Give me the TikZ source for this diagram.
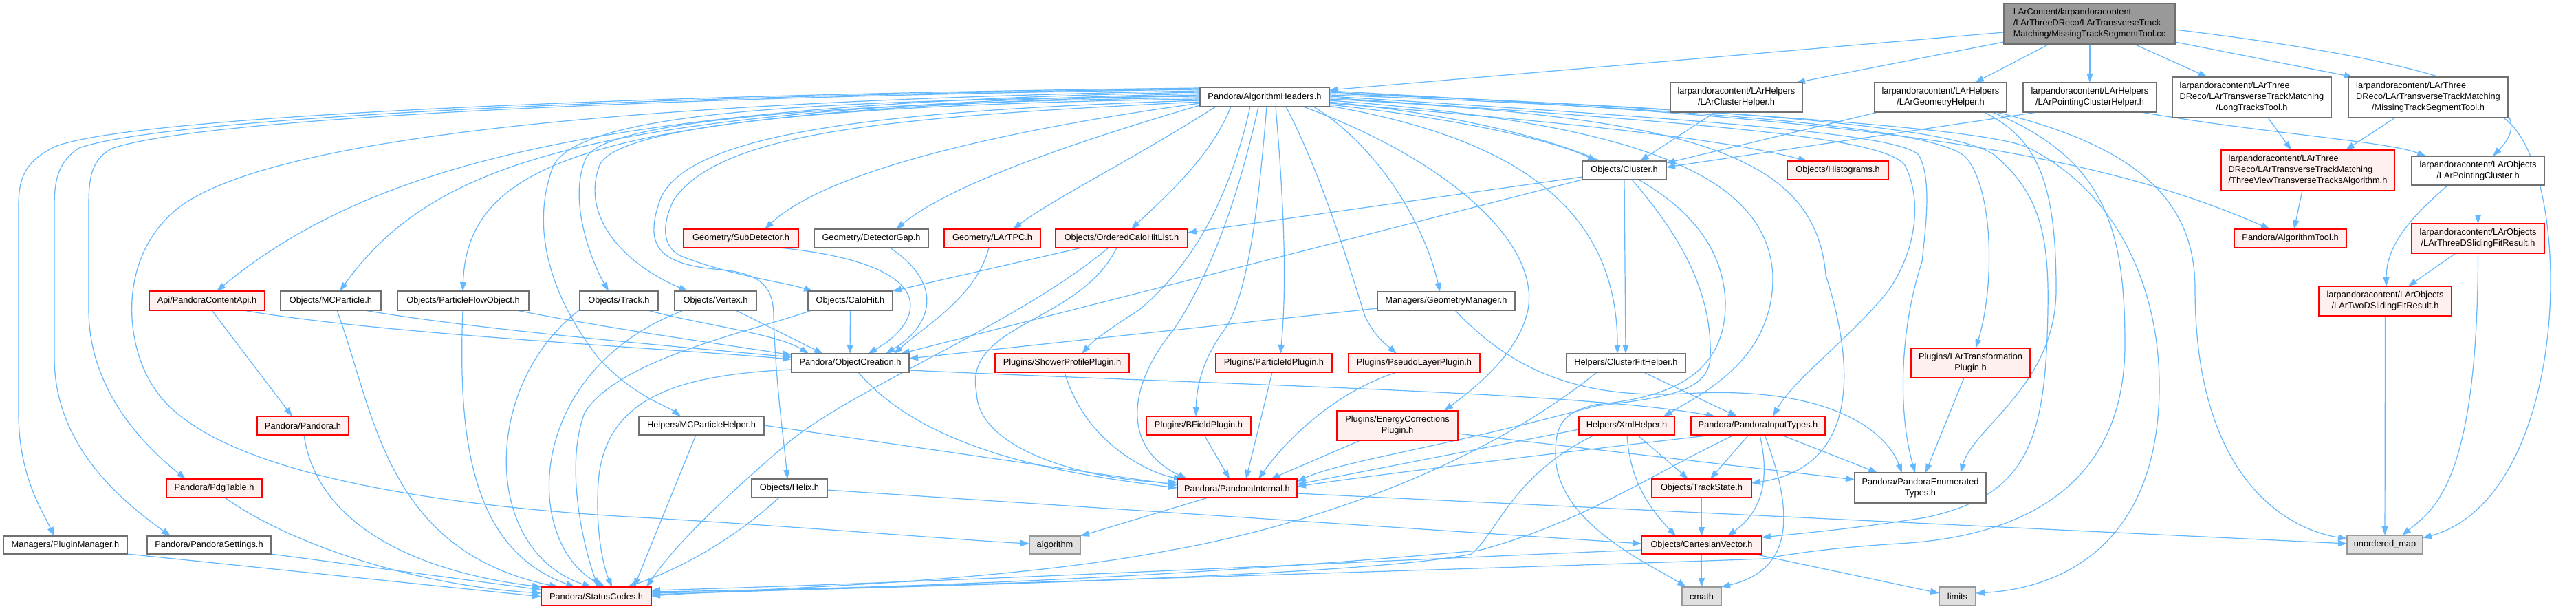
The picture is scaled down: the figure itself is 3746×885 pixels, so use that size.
\documentclass[tikz,border=0pt]{standalone}
\usepackage{fontspec}
\setmainfont{Liberation Sans}
\usetikzlibrary{arrows.meta}
\pgfdeclarelayer{bg}
\pgfsetlayers{bg,main}
\definecolor{edgec}{HTML}{63B8FF}
\definecolor{redfill}{HTML}{FFF0F0}
\definecolor{sysfill}{HTML}{E0E0E0}
\definecolor{sysdraw}{HTML}{999999}
\definecolor{rootfill}{HTML}{999999}
\definecolor{normdraw}{HTML}{707070}
\newcommand\mynode[7]{\node[#6,minimum width={(#3)-(#2)},minimum height={(#5)-(#4)}] (#1) at ({((#2)+(#3))/2},{((#4)+(#5))/2}) {#7};}
\newcommand\twol[2]{\begin{tabular}{@{}l@{}}#1\\\multicolumn{1}{@{}c@{}}{#2}\end{tabular}}
\newcommand\threel[3]{\begin{tabular}{@{}l@{}}#1\\#2\\\multicolumn{1}{@{}c@{}}{#3}\end{tabular}}
\begin{document}
\begin{tikzpicture}[x=1pt,y=-1pt,
  box/.style={rectangle,inner sep=0pt,outer sep=0pt,font=\fontsize{12.8}{16}\selectfont,line width=1.5pt},
  nrm/.style={box,draw=normdraw,fill=white},
  hdr/.style={box,draw=red,fill=redfill},
  sys/.style={box,draw=sysdraw,fill=sysfill},
  rootb/.style={box,draw=normdraw,fill=rootfill},
  dep/.style={draw=edgec,line width=1.2pt,-{Triangle[length=13pt,width=9pt]}}]
\useasboundingbox (0,0) rectangle (3746,885);
% nodes
\mynode{R}{2914}{3163}{5}{64}{rootb}{\threel{LArContent/larpandoracontent}{/LArThreeDReco/LArTransverseTrack}{Matching/MissingTrackSegmentTool.cc}}
\mynode{AH}{1745}{1933}{127}{155}{nrm}{Pandora/AlgorithmHeaders.h}
\mynode{CH}{2429}{2621}{120}{163}{nrm}{\twol{larpandoracontent/LArHelpers}{/LArClusterHelper.h}}
\mynode{GH}{2726}{2918}{120}{163}{nrm}{\twol{larpandoracontent/LArHelpers}{/LArGeometryHelper.h}}
\mynode{PCH}{2942}{3136}{120}{163}{nrm}{\twol{larpandoracontent/LArHelpers}{/LArPointingClusterHelper.h}}
\mynode{LTT}{3159}{3390}{112}{171}{nrm}{\threel{larpandoracontent/LArThree}{DReco/LArTransverseTrackMatching}{/LongTracksTool.h}}
\mynode{MTS}{3415}{3647}{112}{171}{nrm}{\threel{larpandoracontent/LArThree}{DReco/LArTransverseTrackMatching}{/MissingTrackSegmentTool.h}}
\mynode{CL}{2301}{2423}{234}{261}{nrm}{Objects/Cluster.h}
\mynode{HIS}{2599}{2746}{234}{261}{hdr}{Objects/Histograms.h}
\mynode{TVA}{3230}{3482}{218}{277}{hdr}{\threel{larpandoracontent/LArThree}{DReco/LArTransverseTrackMatching}{/ThreeViewTransverseTracksAlgorithm.h}}
\mynode{PC}{3507}{3700}{227}{269}{nrm}{\twol{larpandoracontent/LArObjects}{/LArPointingCluster.h}}
\mynode{SD}{994}{1161}{333}{360}{hdr}{Geometry/SubDetector.h}
\mynode{DG}{1184}{1350}{333}{360}{nrm}{Geometry/DetectorGap.h}
\mynode{TPC}{1373}{1513}{333}{360}{hdr}{Geometry/LArTPC.h}
\mynode{OCHL}{1535}{1727}{333}{360}{hdr}{Objects/OrderedCaloHitList.h}
\mynode{AT}{3249}{3412}{333}{360}{hdr}{Pandora/AlgorithmTool.h}
\mynode{TDS}{3507}{3700}{325}{368}{hdr}{\twol{larpandoracontent/LArObjects}{/LArThreeDSlidingFitResult.h}}
\mynode{API}{217}{385}{423}{451}{hdr}{Api/PandoraContentApi.h}
\mynode{MCP}{408}{554}{423}{451}{nrm}{Objects/MCParticle.h}
\mynode{PFO}{578}{769}{423}{451}{nrm}{Objects/ParticleFlowObject.h}
\mynode{TRK}{843}{957}{423}{451}{nrm}{Objects/Track.h}
\mynode{VTX}{981}{1100}{423}{451}{nrm}{Objects/Vertex.h}
\mynode{CAL}{1175}{1298}{423}{451}{nrm}{Objects/CaloHit.h}
\mynode{GM}{2003}{2203}{424}{451}{nrm}{Managers/GeometryManager.h}
\mynode{TWD}{3372}{3565}{416}{459}{hdr}{\twol{larpandoracontent/LArObjects}{/LArTwoDSlidingFitResult.h}}
\mynode{OC}{1151}{1322}{514}{541}{nrm}{Pandora/ObjectCreation.h}
\mynode{SPP}{1447}{1642}{514}{541}{hdr}{Plugins/ShowerProfilePlugin.h}
\mynode{PID}{1768}{1937}{514}{541}{hdr}{Plugins/ParticleIdPlugin.h}
\mynode{PLP}{1961}{2152}{514}{541}{hdr}{Plugins/PseudoLayerPlugin.h}
\mynode{CFH}{2278}{2451}{514}{541}{nrm}{Helpers/ClusterFitHelper.h}
\mynode{LTP}{2779}{2952}{506}{549}{hdr}{\twol{Plugins/LArTransformation}{Plugin.h}}
\mynode{PAN}{374}{507}{605}{632}{hdr}{Pandora/Pandora.h}
\mynode{MCH}{929}{1111}{605}{632}{nrm}{Helpers/MCParticleHelper.h}
\mynode{BFP}{1667}{1819}{605}{632}{hdr}{Plugins/BFieldPlugin.h}
\mynode{ECP}{1944}{2120}{597}{640}{hdr}{\twol{Plugins/EnergyCorrections}{Plugin.h}}
\mynode{XML}{2296}{2435}{605}{632}{hdr}{Helpers/XmlHelper.h}
\mynode{PIT}{2459}{2654}{605}{632}{hdr}{Pandora/PandoraInputTypes.h}
\mynode{PDG}{242}{381}{696}{723}{hdr}{Pandora/PdgTable.h}
\mynode{HLX}{1093}{1203}{696}{723}{nrm}{Objects/Helix.h}
\mynode{PI}{1712}{1886}{696}{723}{hdr}{Pandora/PandoraInternal.h}
\mynode{TS}{2402}{2547}{696}{723}{hdr}{Objects/TrackState.h}
\mynode{PET}{2697}{2888}{687}{731}{nrm}{\twol{Pandora/PandoraEnumerated}{Types.h}}
\mynode{PM}{5}{185}{779}{805}{nrm}{Managers/PluginManager.h}
\mynode{PS}{214}{394}{779}{805}{nrm}{Pandora/PandoraSettings.h}
\mynode{ALG}{1497}{1571}{779}{805}{sys}{algorithm}
\mynode{CV}{2387}{2562}{779}{805}{hdr}{Objects/CartesianVector.h}
\mynode{UM}{3413}{3523}{778}{805}{sys}{unordered\_map}
\mynode{SC}{787}{947}{853}{880}{hdr}{Pandora/StatusCodes.h}
\mynode{CM}{2446}{2503}{853}{880}{sys}{cmath}
\mynode{LIM}{2820}{2873}{853}{880}{sys}{limits}
\begin{pgfonlayer}{bg}
\fill[white] (0,0) rectangle (3746,885);
% root
\draw[dep] (R.west|-0,47) -- (AH.east|-0,131);
\draw[dep] (R.west|-0,61) -- (CH.north-|2612,0);
\draw[dep] (R.south-|2980,0) -- (GH.north-|2872,0);
\draw[dep] (R.south-|3039,0) -- (PCH.north-|3039,0);
\draw[dep] (R.south-|3103,0) -- (LTT.north-|3210,0);
\draw[dep] (R.east|-0,61) -- (MTS.north-|3422,0);
\draw[dep] (R.east|-0,43) .. controls (3590,95) and (3700,150) .. (PC.north-|3625,0);
% tools / objects
\draw[dep] (LTT.south-|3298,0) -- (TVA.north-|3332,0);
\draw[dep] (MTS.south-|3483,0) -- (TVA.north-|3411,0);
\draw[dep] (MTS.south-|3640,0) .. controls (3745,240) and (3745,720) .. (UM.east|-0,782);
\draw[dep] (TVA.south-|3348,0) -- (AT.north-|3336,0);
\draw[dep] (PC.south) -- (TDS.north);
\draw[dep] (PC.south-|3560,0) .. controls (3500,320) and (3470,360) .. (TWD.north-|3470,0);
\draw[dep] (TDS.south-|3571,0) -- (TWD.north-|3502,0);
\draw[dep] (TDS.south) .. controls (3603,700) and (3540,740) .. (UM.north-|3493,0);
\draw[dep] (TWD.south) -- (UM.north-|3468,0);
% helpers
\draw[dep] (PCH.south-|2963,0) -- (CL.east|-0,243);
\draw[dep] (PCH.south-|3113,0) .. controls (3300,195) and (3470,205) .. (PC.north-|3528,0);
\draw[dep] (CH.south-|2494,0) -- (CL.north-|2385,0);
\draw[dep] (GH.south-|2731,0) -- (CL.east|-0,237);
\draw[dep] (GH.south-|2885,0) .. controls (2960,200) and (2990,260) .. (2990,420) .. controls (2990,560) and (2870,620) .. (PET.north-|2851,0);
\draw[dep] (GH.south-|2897,0) .. controls (3060,230) and (3090,330) .. (3090,500) .. controls (3090,700) and (2950,780) .. (2760,790) .. controls (2650,797) and (2600,806) .. (2565,812) .. controls (2300,822) and (1300,852) .. (SC.east|-0,864);
\draw[dep] (GH.south-|2903,0) .. controls (3120,215) and (3192,300) .. (3192,420) .. controls (3192,700) and (3330,770) .. (UM.west|-0,783);
% AlgorithmHeaders, right bundle
\draw[dep] (AH.east|-0,132) .. controls (2600,170) and (3000,200) .. (AT.north-|3301,0);
\draw[dep] (AH.east|-0,134) .. controls (2600,165) and (2900,190) .. (2950,215) .. controls (3080,280) and (3140,420) .. (3140,560) .. controls (3140,790) and (3000,855) .. (LIM.east|-0,862);
\draw[dep] (AH.east|-0,136) .. controls (2600,160) and (2850,190) .. (2900,225) .. controls (2965,280) and (2980,340) .. (2978,450) .. controls (2975,640) and (2950,720) .. (2800,752) .. controls (2700,768) and (2620,775) .. (CV.east|-0,781);
\draw[dep] (AH.east|-0,138) .. controls (2600,162) and (2830,195) .. (2860,230) .. controls (2900,280) and (2900,420) .. (LTP.north-|2873,0);
\draw[dep] (AH.east|-0,140) .. controls (2500,175) and (2760,195) .. (2790,225) .. controls (2810,260) and (2800,330) .. (2795,380) .. controls (2762,480) and (2760,600) .. (PET.north-|2785,0);
\draw[dep] (AH.east|-0,142) .. controls (2500,180) and (2740,200) .. (2770,240) .. controls (2800,300) and (2780,380) .. (2740,430) .. controls (2680,500) and (2610,550) .. (PIT.north-|2578,0);
\draw[dep] (AH.east|-0,144) .. controls (2450,170) and (2640,220) .. (2655,400) .. controls (2700,540) and (2700,680) .. (TS.east|-0,702);
\draw[dep] (AH.east|-0,146) .. controls (2400,180) and (2570,260) .. (2578,400) .. controls (2580,520) and (2480,570) .. (XML.north-|2419,0);
\draw[dep] (AH.east|-0,148) .. controls (2350,190) and (2505,300) .. (2509,440) .. controls (2510,560) and (2400,580) .. (2320,588) .. controls (2270,600) and (2262,620) .. (2262,660) .. controls (2262,760) and (2400,820) .. (CM.north-|2452,0);
\draw[dep] (AH.east|-0,150) .. controls (2250,175) and (2500,200) .. (HIS.north-|2628,0);
\draw[dep] (AH.east|-0,152) .. controls (2100,170) and (2250,200) .. (CL.north-|2322,0);
\draw[dep] (AH.east|-0,154) .. controls (2200,200) and (2352,300) .. (CFH.north-|2352,0);
% AlgorithmHeaders, bottom
\draw[dep] (AH.south-|1910,0) .. controls (2000,210) and (2070,320) .. (GM.north-|2094,0);
\draw[dep] (AH.south-|1895,0) .. controls (2100,230) and (2240,350) .. (2222,450) .. controls (2210,510) and (2150,560) .. (ECP.north-|2100,0);
\draw[dep] (AH.south-|1870,0) .. controls (1920,250) and (1960,380) .. (1985,460) .. controls (2000,490) and (2015,500) .. (PLP.north-|2031,0);
\draw[dep] (AH.south-|1855,0) .. controls (1870,330) and (1870,430) .. (PID.north-|1862,0);
\draw[dep] (AH.south-|1842,0) .. controls (1830,300) and (1815,430) .. (1780,480) .. controls (1750,520) and (1740,560) .. (BFP.north-|1739,0);
\draw[dep] (AH.south-|1830,0) .. controls (1800,290) and (1760,400) .. (1706,480) .. controls (1640,560) and (1630,650) .. (PI.north-|1726,0);
\draw[dep] (AH.south-|1818,0) .. controls (1790,280) and (1740,380) .. (1657,450) .. controls (1610,480) and (1590,495) .. (SPP.north-|1573,0);
\draw[dep] (AH.south-|1790,0) .. controls (1760,230) and (1690,290) .. (OCHL.north-|1645,0);
\draw[dep] (AH.south-|1768,0) .. controls (1650,230) and (1530,290) .. (TPC.north-|1473,0);
% AlgorithmHeaders, left bundle
\draw[dep] (AH.west|-0,153) .. controls (1550,210) and (1380,270) .. (DG.north-|1303,0);
\draw[dep] (AH.west|-0,150) .. controls (1450,190) and (1200,250) .. (SD.north-|1112,0);
\draw[dep] (AH.west|-0,148) .. controls (1300,170) and (1050,190) .. (980,290) .. controls (960,330) and (965,360) .. (990,372) .. controls (1060,400) and (1140,410) .. (CAL.north-|1182,0);
\draw[dep] (AH.west|-0,146) .. controls (1300,160) and (1000,190) .. (960,290) .. controls (935,360) and (960,385) .. (1050,392) .. controls (1110,398) and (1125,420) .. (1125,460) .. controls (1128,560) and (1140,640) .. (HLX.north-|1145,0);
\draw[dep] (AH.west|-0,144) .. controls (1300,150) and (900,175) .. (872,240) .. controls (845,310) and (900,380) .. (VTX.north-|1000,0);
\draw[dep] (AH.west|-0,142) .. controls (1300,148) and (880,168) .. (852,230) .. controls (825,290) and (860,380) .. (TRK.north-|885,0);
\draw[dep] (AH.west|-0,140) .. controls (1200,145) and (850,160) .. (805,240) .. controls (770,330) and (800,430) .. (870,520) .. controls (920,575) and (970,590) .. (MCH.north-|990,0);
\draw[dep] (AH.west|-0,138) .. controls (900,160) and (680,220) .. (PFO.north-|673,0);
\draw[dep] (AH.west|-0,136) .. controls (900,158) and (640,220) .. (MCP.north-|494,0);
\draw[dep] (AH.west|-0,134) .. controls (900,150) and (550,230) .. (API.north-|315,0);
\draw[dep] (AH.west|-0,132) .. controls (900,148) and (400,200) .. (262,300) .. controls (170,370) and (180,500) .. (225,565) .. controls (300,680) and (600,735) .. (950,753) .. controls (1200,768) and (1400,785) .. (ALG.west|-0,790);
\draw[dep] (AH.west|-0,130) .. controls (1000,140) and (300,170) .. (165,215) .. controls (132,230) and (129,260) .. (129,300) -- (129,450) .. controls (129,560) and (200,640) .. (PDG.north-|270,0);
\draw[dep] (AH.west|-0,129) .. controls (1000,138) and (250,168) .. (115,215) .. controls (85,235) and (79,260) .. (79,300) -- (79,520) .. controls (79,650) and (180,730) .. (PS.north-|248,0);
\draw[dep] (AH.west|-0,128) .. controls (1000,136) and (200,166) .. (80,213) .. controls (35,235) and (27,260) .. (27,300) -- (27,600) .. controls (27,690) and (60,740) .. (PM.north-|79,0);
% second level, left
\draw[dep] (API.south-|308,0) -- (PAN.north-|425,0);
\draw[dep] (API.south-|354,0) .. controls (550,485) and (950,505) .. (OC.west|-0,522);
\draw[dep] (MCP.south-|530,0) .. controls (700,480) and (1000,505) .. (OC.west|-0,519);
\draw[dep] (PFO.south-|751,0) .. controls (900,480) and (1050,500) .. (OC.west|-0,516);
\draw[dep] (TRK.south-|942,0) .. controls (1010,470) and (1130,485) .. (OC.north-|1176,0);
\draw[dep] (VTX.south-|1070,0) -- (OC.north-|1197,0);
\draw[dep] (CAL.south) -- (OC.north-|1236,0);
\draw[dep] (SD.south-|1133,0) .. controls (1380,385) and (1340,470) .. (OC.north-|1262,0);
\draw[dep] (DG.south-|1294,0) .. controls (1370,410) and (1360,470) .. (OC.north-|1288,0);
\draw[dep] (TPC.south-|1438,0) .. controls (1420,430) and (1350,470) .. (OC.north-|1300,0);
\draw[dep] (CL.south west) -- (OC.north-|1310,0);
\draw[dep] (CL.west|-0,257) -- (OCHL.east|-0,338);
\draw[dep] (CL.south-|2362,0) -- (CFH.north-|2364,0);
\draw[dep] (CL.south-|2373,0) .. controls (2450,350) and (2490,430) .. (2487,520) .. controls (2484,570) and (2420,578) .. (2320,590) .. controls (2100,650) and (1950,670) .. (PI.east|-0,700);
\draw[dep] (GM.west|-0,448) -- (OC.east|-0,521);
\draw[dep] (GM.south-|2116,0) .. controls (2200,540) and (2300,580) .. (2450,572) .. controls (2650,560) and (2740,620) .. (PET.north-|2766,0);
\draw[dep] (OCHL.south-|1573,0) -- (CAL.north east);
\draw[dep] (OCHL.south-|1612,0) .. controls (1480,470) and (1250,560) .. (1150,640) .. controls (1080,700) and (990,780) .. (SC.north-|940,0);
\draw[dep] (OCHL.south-|1624,0) .. controls (1570,470) and (1400,470) .. (1420,570) .. controls (1422,660) and (1600,700) .. (PI.west|-0,701);
% object creation
\draw[dep] (OC.east|-0,538) .. controls (1800,560) and (2300,570) .. (PIT.north-|2494,0);
\draw[dep] (OC.south-|1248,0) .. controls (1350,660) and (1560,690) .. (PI.west|-0,709);
\draw[dep] (OC.west|-0,537) .. controls (980,545) and (880,580) .. (870,700) .. controls (865,780) and (880,830) .. (SC.north-|890,0);
% plugins
\draw[dep] (SPP.south-|1548,0) .. controls (1580,650) and (1680,690) .. (PI.north-|1720,0);
\draw[dep] (PID.south-|1850,0) -- (PI.north-|1812,0);
\draw[dep] (PLP.south-|2031,0) .. controls (1940,570) and (1870,640) .. (PI.north-|1830,0);
\draw[dep] (BFP.south-|1751,0) -- (PI.north-|1788,0);
\draw[dep] (ECP.south-|1978,0) -- (PI.north-|1848,0);
\draw[dep] (ECP.east|-0,630) -- (PET.west|-0,697);
\draw[dep] (LTP.south-|2856,0) -- (PET.north-|2800,0);
% helpers
\draw[dep] (MCH.east|-0,618) -- (PI.west|-0,705);
\draw[dep] (MCH.south-|1012,0) -- (SC.north-|922,0);
\draw[dep] (CFH.south-|2390,0) -- (PIT.north-|2526,0);
\draw[dep] (CFH.south-|2322,0) .. controls (2150,680) and (1900,765) .. (1700,800) .. controls (1450,848) and (1100,855) .. (SC.east|-0,866);
\draw[dep] (XML.west|-0,624) -- (PI.east|-0,704);
\draw[dep] (XML.south-|2381,0) -- (TS.north-|2455,0);
\draw[dep] (XML.south-|2366,0) .. controls (2370,700) and (2400,740) .. (CV.north-|2437,0);
\draw[dep] (XML.south-|2319,0) .. controls (2200,690) and (2180,770) .. (2140,805) .. controls (2000,835) and (1400,852) .. (SC.east|-0,862);
% input types
\draw[dep] (PIT.south-|2491,0) .. controls (2250,660) and (2000,690) .. (PI.east|-0,707);
\draw[dep] (PIT.south-|2543,0) -- (TS.north-|2487,0);
\draw[dep] (PIT.south-|2559,0) .. controls (2575,700) and (2560,745) .. (CV.north-|2512,0);
\draw[dep] (PIT.south-|2566,0) .. controls (2615,760) and (2600,830) .. (CM.north east);
\draw[dep] (PIT.south-|2590,0) -- (PET.north-|2730,0);
\draw[dep] (PIT.south-|2522,0) .. controls (2400,690) and (2300,760) .. (2150,800) .. controls (1700,840) and (1300,855) .. (SC.east|-0,860);
% lower objects
\draw[dep] (TS.south) -- (CV.north);
\draw[dep] (CV.south) -- (CM.north);
\draw[dep] (CV.south-|2550,0) -- (LIM.west|-0,862);
\draw[dep] (CV.west|-0,799) .. controls (2000,815) and (1400,845) .. (SC.east|-0,858);
\draw[dep] (HLX.east|-0,712) -- (CV.west|-0,790);
\draw[dep] (HLX.south-|1133,0) .. controls (1060,790) and (980,830) .. (SC.north-|912,0);
\draw[dep] (PI.south-|1757,0) -- (ALG.north east);
\draw[dep] (PI.east|-0,717) -- (UM.west|-0,790);
% to status codes from the left
\draw[dep] (CAL.south-|1180,0) .. controls (1100,480) and (900,520) .. (850,600) .. controls (820,680) and (850,800) .. (SC.north-|870,0);
\draw[dep] (VTX.south-|994,0) .. controls (760,540) and (760,790) .. (SC.north-|880,0);
\draw[dep] (TRK.south-|842,0) .. controls (700,560) and (700,800) .. (SC.north-|860,0);
\draw[dep] (PFO.south-|673,0) .. controls (665,650) and (690,800) .. (SC.north-|836,0);
\draw[dep] (MCP.south-|490,0) .. controls (545,600) and (560,800) .. (SC.north-|812,0);
\draw[dep] (PAN.south-|442,0) .. controls (460,760) and (600,830) .. (SC.north west);
\draw[dep] (PDG.south-|327,0) .. controls (420,790) and (600,850) .. (SC.west|-0,862);
\draw[dep] (PS.south east) -- (SC.west|-0,857);
\draw[dep] (PM.south east) -- (SC.west|-0,867);
\end{pgfonlayer}
\end{tikzpicture}
\end{document}
